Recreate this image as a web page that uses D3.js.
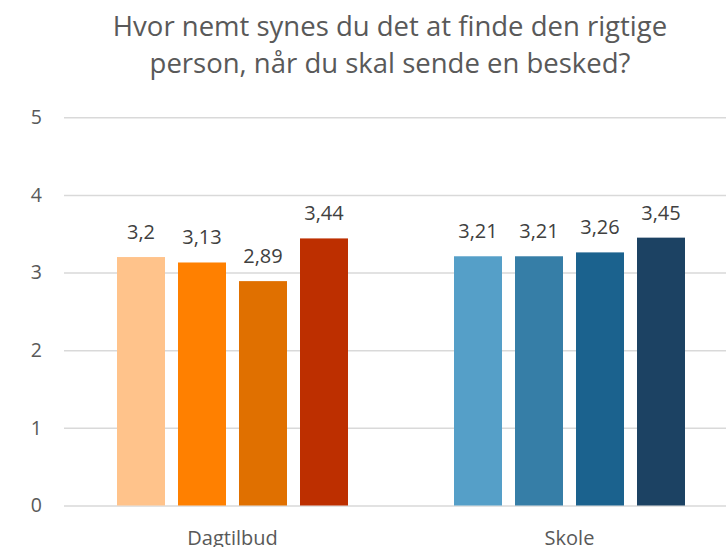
<!DOCTYPE html>
<html><head><meta charset="utf-8">
<script src="https://cdn.jsdelivr.net/npm/d3@7"></script>
<style>
html,body{margin:0;padding:0;background:#fff;}
svg{display:block;}
</style></head>
<body>
<svg id="chart" width="726" height="547"></svg>
<script>
const titleLines = ["Hvor nemt synes du det at finde den rigtige", "person, når du skal sende en besked?"];
const categories = ["Dagtilbud", "Skole"];
const seriesKeys = ["s1", "s2", "s3", "s4"];
const dagtilbudValues = [3.2, 3.13, 2.89, 3.44];
const skoleValues = [3.21, 3.21, 3.26, 3.45];
const yTicks = [0, 1, 2, 3, 4, 5];
const orangeColors = ["#FFC38B", "#FF8000", "#E07000", "#BD2F00"];
const blueColors = ["#559FC8", "#367EA7", "#1B628E", "#1C4263"];

const valuesByCategory = { "Dagtilbud": dagtilbudValues, "Skole": skoleValues };
const colorsByCategory = { "Dagtilbud": orangeColors, "Skole": blueColors };

const svg = d3.select("#chart");
const font = "Open Sans, sans-serif";
const textColor = "#595959";

const plot = { left: 64, right: 738, top: 117.3, bottom: 505.5 };

const x0 = d3.scaleBand().domain(categories).range([plot.left, plot.right]).padding(0);
const groupWidth = 231;
const x1 = d3.scaleBand().domain(seriesKeys).range([0, groupWidth]).paddingInner(13 / 61).paddingOuter(0);
const y = d3.scaleLinear().domain([0, 5]).range([plot.bottom, plot.top]);

// title
svg.append("g").selectAll("text").data(titleLines).join("text")
  .attr("x", 390).attr("y", (d, i) => 36 + i * 37)
  .attr("text-anchor", "middle")
  .attr("font-family", font).attr("font-size", 27.5)
  .attr("fill", textColor)
  .text(d => d);

// gridlines + y-axis labels
const yAxis = d3.axisLeft(y).tickValues(yTicks).tickSize(0).tickPadding(0).tickFormat(d3.format("d"));
const gy = svg.append("g").attr("transform", `translate(${plot.left},0)`).call(yAxis);
gy.select(".domain").remove();
gy.selectAll(".tick text")
  .attr("x", -22).attr("font-family", font).attr("font-size", 19.5).attr("fill", textColor);
gy.selectAll(".tick").append("line")
  .attr("x1", 0).attr("x2", plot.right - plot.left)
  .attr("stroke", "#D9D9D9").attr("stroke-width", 1.5);

// bars
const groups = svg.append("g").selectAll("g").data(categories).join("g")
  .attr("transform", d => `translate(${x0(d) + (x0.bandwidth() - groupWidth) / 2},0)`);

groups.selectAll("rect").data(c => valuesByCategory[c].map((v, i) => ({ key: seriesKeys[i], value: v, color: colorsByCategory[c][i] })))
  .join("rect")
  .attr("x", d => x1(d.key)).attr("width", x1.bandwidth())
  .attr("y", d => y(d.value)).attr("height", d => y(0) - y(d.value))
  .attr("fill", d => d.color);

const fmt = v => String(v).replace(".", ",");
groups.selectAll("text").data(c => valuesByCategory[c].map((v, i) => ({ key: seriesKeys[i], value: v })))
  .join("text")
  .attr("x", d => x1(d.key) + x1.bandwidth() / 2)
  .attr("y", d => y(d.value) - 18)
  .attr("text-anchor", "middle")
  .attr("font-family", font).attr("font-size", 20).attr("fill", "#404040")
  .text(d => fmt(d.value));

// x-axis labels
const xAxis = d3.axisBottom(x0).tickSize(0).tickPadding(0);
const gx = svg.append("g").attr("transform", `translate(0,${plot.bottom})`).call(xAxis);
gx.select(".domain").remove();
gx.selectAll(".tick text").attr("dy", null).attr("y", 39.5)
  .attr("font-family", font).attr("font-size", 20).attr("fill", textColor);
</script>
</body></html>
